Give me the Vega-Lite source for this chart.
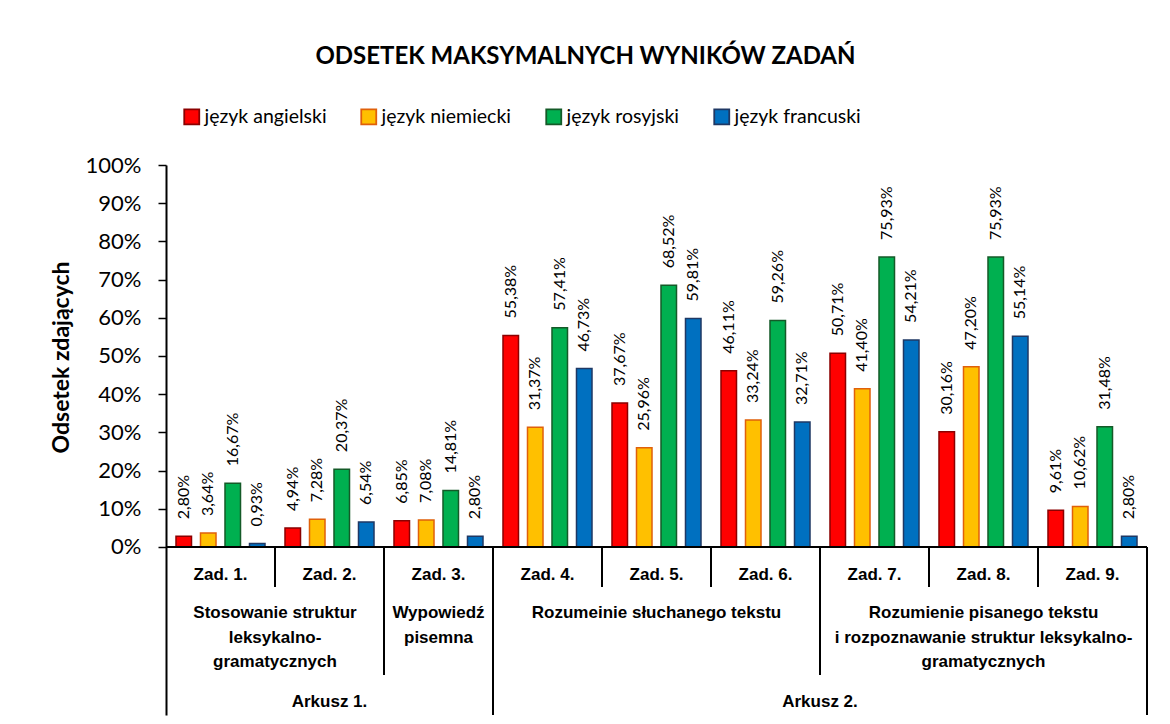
{
  "$schema": "https://vega.github.io/schema/vega-lite/v6.json",
  "width": 981,
  "height": 550,
  "autosize": {"type": "none"},
  "padding": {"left": 166, "top": 165, "right": 23, "bottom": 9},
  "background": "white",
  "config": {
    "view": {"stroke": null},
    "font": "Lato",
    "locale": {"number": {"decimal": ",", "thousands": " ", "grouping": [3], "currency": ["", " zł"]}}
  },
  "title": {
    "text": "ODSETEK MAKSYMALNYCH WYNIKÓW ZADAŃ",
    "font": "Lato",
    "fontWeight": "bold",
    "fontSize": 24,
    "color": "black",
    "anchor": "middle",
    "frame": "group",
    "dx": -71,
    "offset": 38
  },
  "datasets": {
    "bars": [
      {"zad": "Zad. 1.", "lang": "język angielski", "v": 0.0280},
      {"zad": "Zad. 1.", "lang": "język niemiecki", "v": 0.0364},
      {"zad": "Zad. 1.", "lang": "język rosyjski", "v": 0.1667},
      {"zad": "Zad. 1.", "lang": "język francuski", "v": 0.0093},
      {"zad": "Zad. 2.", "lang": "język angielski", "v": 0.0494},
      {"zad": "Zad. 2.", "lang": "język niemiecki", "v": 0.0728},
      {"zad": "Zad. 2.", "lang": "język rosyjski", "v": 0.2037},
      {"zad": "Zad. 2.", "lang": "język francuski", "v": 0.0654},
      {"zad": "Zad. 3.", "lang": "język angielski", "v": 0.0685},
      {"zad": "Zad. 3.", "lang": "język niemiecki", "v": 0.0708},
      {"zad": "Zad. 3.", "lang": "język rosyjski", "v": 0.1481},
      {"zad": "Zad. 3.", "lang": "język francuski", "v": 0.0280},
      {"zad": "Zad. 4.", "lang": "język angielski", "v": 0.5538},
      {"zad": "Zad. 4.", "lang": "język niemiecki", "v": 0.3137},
      {"zad": "Zad. 4.", "lang": "język rosyjski", "v": 0.5741},
      {"zad": "Zad. 4.", "lang": "język francuski", "v": 0.4673},
      {"zad": "Zad. 5.", "lang": "język angielski", "v": 0.3767},
      {"zad": "Zad. 5.", "lang": "język niemiecki", "v": 0.2596},
      {"zad": "Zad. 5.", "lang": "język rosyjski", "v": 0.6852},
      {"zad": "Zad. 5.", "lang": "język francuski", "v": 0.5981},
      {"zad": "Zad. 6.", "lang": "język angielski", "v": 0.4611},
      {"zad": "Zad. 6.", "lang": "język niemiecki", "v": 0.3324},
      {"zad": "Zad. 6.", "lang": "język rosyjski", "v": 0.5926},
      {"zad": "Zad. 6.", "lang": "język francuski", "v": 0.3271},
      {"zad": "Zad. 7.", "lang": "język angielski", "v": 0.5071},
      {"zad": "Zad. 7.", "lang": "język niemiecki", "v": 0.4140},
      {"zad": "Zad. 7.", "lang": "język rosyjski", "v": 0.7593},
      {"zad": "Zad. 7.", "lang": "język francuski", "v": 0.5421},
      {"zad": "Zad. 8.", "lang": "język angielski", "v": 0.3016},
      {"zad": "Zad. 8.", "lang": "język niemiecki", "v": 0.4720},
      {"zad": "Zad. 8.", "lang": "język rosyjski", "v": 0.7593},
      {"zad": "Zad. 8.", "lang": "język francuski", "v": 0.5514},
      {"zad": "Zad. 9.", "lang": "język angielski", "v": 0.0961},
      {"zad": "Zad. 9.", "lang": "język niemiecki", "v": 0.1062},
      {"zad": "Zad. 9.", "lang": "język rosyjski", "v": 0.3148},
      {"zad": "Zad. 9.", "lang": "język francuski", "v": 0.0280}
    ],
    "zads": [
      {"zad": "Zad. 1."}, {"zad": "Zad. 2."}, {"zad": "Zad. 3."},
      {"zad": "Zad. 4."}, {"zad": "Zad. 5."}, {"zad": "Zad. 6."},
      {"zad": "Zad. 7."}, {"zad": "Zad. 8."}, {"zad": "Zad. 9."}
    ],
    "seps": [
      {"zad": "Zad. 2.", "d": 1},
      {"zad": "Zad. 3.", "d": 2},
      {"zad": "Zad. 4.", "d": 3},
      {"zad": "Zad. 5.", "d": 1},
      {"zad": "Zad. 6.", "d": 1},
      {"zad": "Zad. 7.", "d": 2},
      {"zad": "Zad. 8.", "d": 1},
      {"zad": "Zad. 9.", "d": 1}
    ],
    "skills": [
      {"zad": "Zad. 2.", "b": 0, "label": "Stosowanie struktur\nleksykalno-\ngramatycznych"},
      {"zad": "Zad. 3.", "b": 1, "label": "Wypowiedź\npisemna"},
      {"zad": "Zad. 5.", "b": 1, "label": "Rozumeinie słuchanego tekstu"},
      {"zad": "Zad. 8.", "b": 1, "label": "Rozumienie pisanego tekstu\ni rozpoznawanie struktur leksykalno-\ngramatycznych"}
    ],
    "sheets": [
      {"zad": "Zad. 2.", "b": 1, "label": "Arkusz 1."},
      {"zad": "Zad. 7.", "b": 0, "label": "Arkusz 2."}
    ]
  },
  "layer": [
    {
      "data": {"name": "bars"},
      "mark": {"type": "bar", "strokeWidth": 1.5},
      "encoding": {
        "x": {"field": "zad", "type": "nominal", "sort": null,
              "scale": {"domain": ["Zad. 1.", "Zad. 2.", "Zad. 3.", "Zad. 4.", "Zad. 5.", "Zad. 6.", "Zad. 7.", "Zad. 8.", "Zad. 9."], "paddingInner": 0, "paddingOuter": 0},
              "axis": null},
        "xOffset": {"field": "lang", "type": "nominal", "sort": null,
                    "scale": {"domain": ["język angielski", "język niemiecki", "język rosyjski", "język francuski"], "paddingInner": 0.367, "paddingOuter": 0.408}},
        "y": {"field": "v", "type": "quantitative",
              "scale": {"domain": [-0.44, 1], "nice": false, "zero": false},
              "axis": {
                "values": [0, 0.1, 0.2, 0.3, 0.4, 0.5, 0.6, 0.7, 0.8, 0.9, 1],
                "format": ".0%",
                "title": "Odsetek zdających",
                "titleFont": "Lato", "titleFontSize": 23, "titleFontWeight": "bold", "titleColor": "black",
                "titleY": 192, "titlePadding": 12,
                "labelFont": "Lato", "labelFontSize": 22, "labelColor": "black", "labelPadding": 17,
                "tickSize": 8, "tickColor": "black", "tickWidth": 1.5,
                "domainColor": "black", "domainWidth": 2, "grid": false
              }},
        "fill": {"field": "lang", "type": "nominal", "sort": null,
                 "scale": {"domain": ["język angielski", "język niemiecki", "język rosyjski", "język francuski"], "range": ["#FF0000", "#FFC000", "#00B050", "#0070C0"]},
                 "legend": {"orient": "none", "legendX": 16, "legendY": -58, "direction": "horizontal", "title": null,
                            "symbolType": "square", "symbolSize": 225, "symbolStrokeWidth": 1.8,
                            "labelFont": "Lato", "labelFontSize": 19.5, "labelColor": "black", "labelOffset": 3,
                            "columnPadding": 30, "padding": 0}},
        "stroke": {"field": "lang", "type": "nominal", "sort": null,
                   "scale": {"domain": ["język angielski", "język niemiecki", "język rosyjski", "język francuski"], "range": ["#8B0000", "#E0600A", "#145A28", "#1F3864"]},
                   "legend": {"orient": "none", "legendX": 16, "legendY": -58, "direction": "horizontal", "title": null,
                              "symbolType": "square", "symbolSize": 225, "symbolStrokeWidth": 1.8,
                              "labelFont": "Lato", "labelFontSize": 19.5, "labelColor": "black", "labelOffset": 3,
                              "columnPadding": 30, "padding": 0}}
      }
    },
    {
      "data": {"name": "bars"},
      "mark": {"type": "text", "angle": 270, "align": "left", "baseline": "middle", "dx": 17, "font": "Lato", "fontSize": 16, "color": "black"},
      "encoding": {
        "x": {"field": "zad", "type": "nominal", "sort": null},
        "xOffset": {"field": "lang", "type": "nominal", "sort": null},
        "y": {"field": "v", "type": "quantitative"},
        "text": {"field": "v", "type": "quantitative", "format": ".2%"}
      }
    },
    {
      "data": {"values": [{}]},
      "mark": {"type": "rule", "color": "black", "strokeWidth": 2},
      "encoding": {"y": {"datum": 0}}
    },
    {
      "data": {"name": "seps"},
      "transform": [{"filter": "datum.d == 1"}],
      "mark": {"type": "rule", "color": "black", "strokeWidth": 2},
      "encoding": {
        "x": {"field": "zad", "type": "nominal", "bandPosition": 0},
        "y": {"datum": 0},
        "y2": {"datum": -0.1047}
      }
    },
    {
      "data": {"name": "seps"},
      "transform": [{"filter": "datum.d == 2"}],
      "mark": {"type": "rule", "color": "black", "strokeWidth": 2},
      "encoding": {
        "x": {"field": "zad", "type": "nominal", "bandPosition": 0},
        "y": {"datum": 0},
        "y2": {"datum": -0.335}
      }
    },
    {
      "data": {"name": "seps"},
      "transform": [{"filter": "datum.d == 3"}],
      "mark": {"type": "rule", "color": "black", "strokeWidth": 2},
      "encoding": {
        "x": {"field": "zad", "type": "nominal", "bandPosition": 0},
        "y": {"datum": 0},
        "y2": {"datum": -0.44}
      }
    },
    {
      "data": {"values": [{"zad": "Zad. 9."}]},
      "mark": {"type": "rule", "color": "black", "strokeWidth": 2},
      "encoding": {
        "x": {"field": "zad", "type": "nominal", "bandPosition": 1},
        "y": {"datum": 0},
        "y2": {"datum": -0.44}
      }
    },
    {
      "data": {"name": "zads"},
      "mark": {"type": "text", "font": "Liberation Sans", "fontWeight": "bold", "fontSize": 17, "color": "black", "baseline": "middle", "align": "center"},
      "encoding": {
        "x": {"field": "zad", "type": "nominal", "bandPosition": 0.5},
        "y": {"datum": -0.0733},
        "text": {"field": "zad"}
      }
    },
    {
      "data": {"name": "skills"},
      "transform": [{"filter": "datum.b == 1"}],
      "mark": {"type": "text", "font": "Liberation Sans", "fontWeight": "bold", "fontSize": 17, "color": "black", "baseline": "top", "align": "center", "lineBreak": "\n", "lineHeight": 24.5},
      "encoding": {
        "x": {"field": "zad", "type": "nominal", "bandPosition": 0.5},
        "y": {"datum": -0.152},
        "text": {"field": "label"}
      }
    },
    {
      "data": {"name": "skills"},
      "transform": [{"filter": "datum.b == 0"}],
      "mark": {"type": "text", "font": "Liberation Sans", "fontWeight": "bold", "fontSize": 17, "color": "black", "baseline": "top", "align": "center", "lineBreak": "\n", "lineHeight": 24.5},
      "encoding": {
        "x": {"field": "zad", "type": "nominal", "bandPosition": 0},
        "y": {"datum": -0.152},
        "text": {"field": "label"}
      }
    },
    {
      "data": {"name": "sheets"},
      "transform": [{"filter": "datum.b == 1"}],
      "mark": {"type": "text", "font": "Liberation Sans", "fontWeight": "bold", "fontSize": 17, "color": "black", "baseline": "middle", "align": "center"},
      "encoding": {
        "x": {"field": "zad", "type": "nominal", "bandPosition": 0.5},
        "y": {"datum": -0.406},
        "text": {"field": "label"}
      }
    },
    {
      "data": {"name": "sheets"},
      "transform": [{"filter": "datum.b == 0"}],
      "mark": {"type": "text", "font": "Liberation Sans", "fontWeight": "bold", "fontSize": 17, "color": "black", "baseline": "middle", "align": "center"},
      "encoding": {
        "x": {"field": "zad", "type": "nominal", "bandPosition": 0},
        "y": {"datum": -0.406},
        "text": {"field": "label"}
      }
    }
  ]
}
